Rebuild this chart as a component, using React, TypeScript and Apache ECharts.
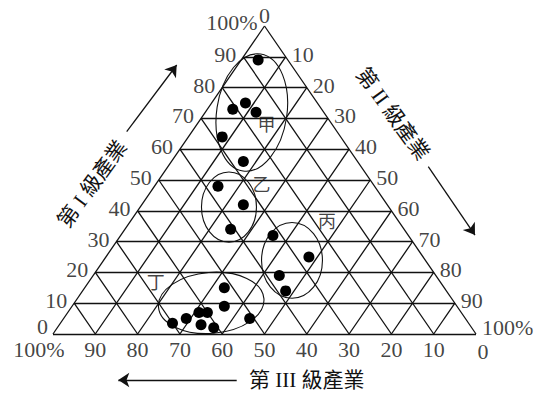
import React, { useEffect, useRef } from "react";
import * as echarts from "echarts";

// Ternary data: [primary (第I級), secondary (第II級), tertiary (第III級)] in %
const groupJia = [[89, 4, 7], [73, 6, 21], [75, 8, 17], [72, 12, 16], [64, 8, 28], [56, 17, 27]];
const groupYi = [[48, 15, 37], [42, 24, 34], [34, 25, 41]];
const groupBing = [[32, 36, 32], [25, 48, 27], [19, 44, 37], [14, 48, 38]];
const groupDing = [
  [3.5, 26.5, 70], [5, 29, 66], [7, 31, 62], [7, 33, 60], [3, 33.5, 63.5],
  [2, 37, 61], [9, 36, 55], [15, 33, 52], [5, 44, 51],
];
const groupNames = ["甲", "乙", "丙", "丁"];
const tickValues = [0, 10, 20, 30, 40, 50, 60, 70, 80, 90, 100];
const gridLevels = [10, 20, 30, 40, 50, 60, 70, 80, 90];

const INK = "#111111";
const FONT = '"Liberation Serif", "Noto Sans CJK TC", serif';

// ternary (primary, secondary) -> cartesian axis units
const toXY = (p: number, s: number) => [s + p / 2, p];
const tickText = (v: number) => (v === 100 ? "100%" : String(v));

export default function App() {
  const ref = useRef<HTMLDivElement>(null);
  useEffect(() => {
    if (!ref.current) return;
    const chart = echarts.init(ref.current, null, { renderer: "svg" });

    const gridLines: any[] = [];
    gridLines.push({ coords: [toXY(0, 0), toXY(100, 0)] });
    gridLines.push({ coords: [toXY(100, 0), toXY(0, 100)] });
    gridLines.push({ coords: [toXY(0, 0), toXY(0, 100)] });
    gridLevels.forEach((v) => {
      gridLines.push({ coords: [toXY(v, 0), toXY(v, 100 - v)] });
      gridLines.push({ coords: [toXY(0, v), toXY(100 - v, v)] });
      gridLines.push({ coords: [toXY(0, 100 - v), toXY(100 - v, 0)] });
    });

    const allPoints = [...groupJia, ...groupYi, ...groupBing, ...groupDing].map((d) => toXY(d[0], d[1]));

    const baseLabel = { show: true, color: INK, fontFamily: FONT, fontSize: 22 };

    const leftTicks = tickValues.map((v) => ({
      value: toXY(v, 0),
      name: tickText(v),
      label: {
        ...baseLabel,
        position: "left",
        distance: v === 0 ? 5 : 7,
        offset: [0, v === 0 ? -8 : v === 100 ? -4 : -2.5],
      },
    }));
    const rightTicks = tickValues.map((v) => ({
      value: toXY(100 - v, v),
      name: tickText(v),
      label:
        v === 0
          ? { ...baseLabel, position: "top", distance: 0 }
          : { ...baseLabel, position: "right", distance: 6, offset: [0, v === 100 ? -7 : -2.5] },
    }));
    const bottomTicks = tickValues.map((v) => ({
      value: toXY(0, 100 - v),
      name: tickText(v),
      label: {
        ...baseLabel,
        position: "bottom",
        distance: 4,
        offset: [v === 100 ? -14 : v === 0 ? 7 : 0, v === 0 ? 2 : 0],
      },
    }));

    const groupLabelPos = [[50.5, 67.9], [49.3, 48.3], [64.8, 36.3], [24.3, 16.4]];
    const groupLabels = groupNames.map((n, i) => ({ value: groupLabelPos[i], name: n }));

    const ellipses = [
      [47.0, 71.9, 8.3, 19.2, -0.15],
      [41.6, 41.2, 6.5, 11.4, 0],
      [56.5, 23.9, 7.2, 12.3, 0],
      [37.4, 10.1, 12.5, 9.9, 0.08],
    ];

    const arrows = [
      { coords: [[17.42, 65.68], [29.24, 87.34]] },
      { coords: [[88.72, 54.32], [99.76, 32.14]] },
      { coords: [[43.43, -14.94], [15.44, -14.94]] },
    ];

    const tickSeries = (data: any[]) => ({
      type: "scatter",
      data,
      symbolSize: 0,
      silent: true,
      clip: false,
      label: { show: true, formatter: (p: any) => p.name },
      z: 5,
    });

    chart.setOption({
      animation: false,
      backgroundColor: "#ffffff",
      grid: { left: 53, top: 26, width: 423, height: 308 },
      xAxis: { type: "value", min: 0, max: 100, show: false },
      yAxis: { type: "value", min: 0, max: 100, show: false },
      series: [
        {
          type: "lines",
          coordinateSystem: "cartesian2d",
          data: gridLines,
          silent: true,
          clip: false,
          lineStyle: { color: INK, width: 1.3, opacity: 1 },
          z: 1,
        },
        {
          type: "custom",
          data: ellipses,
          silent: true,
          clip: false,
          renderItem: (params: any, api: any) => {
            const c = api.coord([api.value(0), api.value(1)]);
            const s = api.size([api.value(2), api.value(3)]);
            return {
              type: "ellipse",
              x: c[0],
              y: c[1],
              rotation: api.value(4),
              shape: { cx: 0, cy: 0, rx: s[0], ry: s[1] },
              style: { fill: "none", stroke: INK, lineWidth: 1.1 },
            };
          },
          z: 2,
        },
        {
          type: "scatter",
          data: allPoints,
          symbol: "circle",
          symbolSize: 11,
          itemStyle: { color: "#000000", opacity: 1 },
          silent: true,
          clip: false,
          z: 3,
        },
        tickSeries(leftTicks),
        tickSeries(rightTicks),
        tickSeries(bottomTicks),
        {
          type: "scatter",
          data: groupLabels,
          symbolSize: 0,
          silent: true,
          clip: false,
          label: {
            show: true,
            position: "inside",
            formatter: (p: any) => p.name,
            color: INK,
            fontSize: 18,
            fontFamily: FONT,
          },
          z: 5,
        },
        {
          type: "lines",
          coordinateSystem: "cartesian2d",
          data: arrows,
          silent: true,
          clip: false,
          symbol: ["none", "arrow"],
          symbolSize: 11,
          lineStyle: { color: INK, width: 1.3, opacity: 1 },
          itemStyle: { color: INK },
          z: 4,
        },
      ],
      graphic: [
        {
          type: "text",
          x: 92.5,
          y: 184,
          rotation: (54 * Math.PI) / 180,
          style: {
            text: "第 I 級產業",
            fill: INK,
            font: `21px ${FONT}`,
            align: "center",
            verticalAlign: "middle",
          },
        },
        {
          type: "text",
          x: 392.5,
          y: 114,
          rotation: (-54 * Math.PI) / 180,
          style: {
            text: "第 II 級產業",
            fill: INK,
            font: `21px ${FONT}`,
            align: "center",
            verticalAlign: "middle",
          },
        },
        {
          type: "text",
          x: 249,
          y: 380,
          style: {
            text: "第 III 級產業",
            fill: INK,
            font: `21px ${FONT}`,
            align: "left",
            verticalAlign: "middle",
          },
        },
      ],
    });
    return () => chart.dispose();
  }, []);
  return (
    <div
      ref={ref}
      style={{ position: "fixed", left: 0, top: 0, width: 552, height: 394, background: "#fff" }}
    />
  );
}
